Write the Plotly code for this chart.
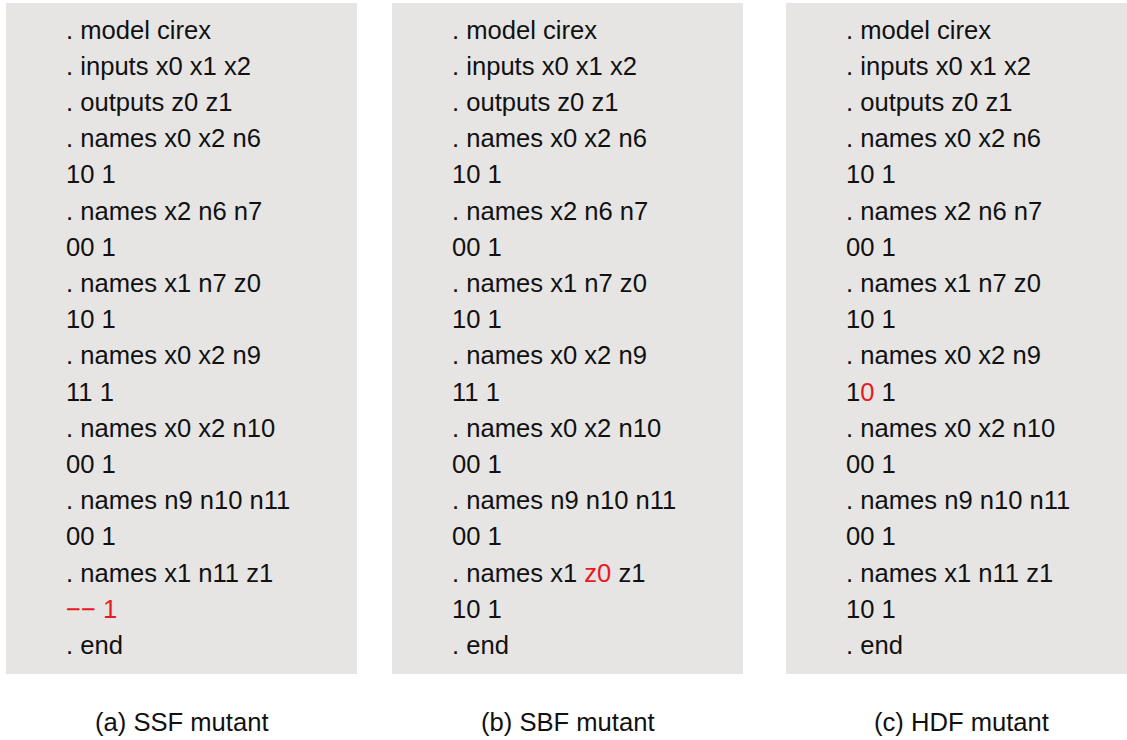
import plotly.graph_objects as go

# ---- data ----
captions = ["(a) SSF mutant", "(b) SBF mutant", "(c) HDF mutant"]

lines_ssf = [". model cirex", ". inputs x0 x1 x2", ". outputs z0 z1",
             ". names x0 x2 n6", "10 1", ". names x2 n6 n7", "00 1",
             ". names x1 n7 z0", "10 1", ". names x0 x2 n9", "11 1",
             ". names x0 x2 n10", "00 1", ". names n9 n10 n11", "00 1",
             ". names x1 n11 z1", "\u2212\u2212 1", ". end"]
lines_sbf = [". model cirex", ". inputs x0 x1 x2", ". outputs z0 z1",
             ". names x0 x2 n6", "10 1", ". names x2 n6 n7", "00 1",
             ". names x1 n7 z0", "10 1", ". names x0 x2 n9", "11 1",
             ". names x0 x2 n10", "00 1", ". names n9 n10 n11", "00 1",
             ". names x1 z0 z1", "10 1", ". end"]
lines_hdf = [". model cirex", ". inputs x0 x1 x2", ". outputs z0 z1",
             ". names x0 x2 n6", "10 1", ". names x2 n6 n7", "00 1",
             ". names x1 n7 z0", "10 1", ". names x0 x2 n9", "10 1",
             ". names x0 x2 n10", "00 1", ". names n9 n10 n11", "00 1",
             ". names x1 n11 z1", "10 1", ". end"]
panels = [lines_ssf, lines_sbf, lines_hdf]

# highlighted (mutated) spans: (panel, line, start char, end char)
highlights = [(0, 16, 0, 4), (1, 15, 11, 13), (2, 10, 1, 2)]

# ---- layout constants ----
W, H = 1127, 740
panel_left = [6, 392, 786]
panel_w = 351
panel_top, panel_bottom = 3, 674
text_dx = 58
line_y0 = 29.5
line_step = 36.2
caption_y = 722
fsize = 25.6
gray = "#e6e5e4"
red = "#e8191f"
font_family = "Liberation Sans, Arial, Helvetica, sans-serif"

fig = go.Figure()
fig.add_trace(go.Scatter(x=[0, W], y=[0, H], mode="markers",
                         marker=dict(opacity=0), hoverinfo="skip", showlegend=False))

shapes = []
annotations = []
for p, lines in enumerate(panels):
    x0 = panel_left[p]
    shapes.append(dict(type="rect", xref="x", yref="y", x0=x0, x1=x0 + panel_w,
                       y0=panel_top, y1=panel_bottom, fillcolor=gray,
                       line=dict(width=0), layer="below"))
    for i, s in enumerate(lines):
        txt = s
        for (hp, hl, a, b) in highlights:
            if hp == p and hl == i:
                txt = s[:a] + f'<span style="color:{red}">' + s[a:b] + "</span>" + s[b:]
        annotations.append(dict(x=x0 + text_dx, y=line_y0 + i * line_step,
                                xref="x", yref="y", text=txt, showarrow=False,
                                xanchor="left", yanchor="middle",
                                font=dict(family=font_family, size=fsize, color="#111111")))
    annotations.append(dict(x=x0 + panel_w / 2, y=caption_y, xref="x", yref="y",
                            text=captions[p], showarrow=False,
                            xanchor="center", yanchor="middle",
                            font=dict(family=font_family, size=fsize, color="#111111")))

fig.update_layout(
    width=W, height=H, autosize=False,
    margin=dict(l=0, r=0, t=0, b=0),
    paper_bgcolor="white", plot_bgcolor="white",
    xaxis=dict(range=[0, W], visible=False, fixedrange=True),
    yaxis=dict(range=[H, 0], visible=False, fixedrange=True),
    shapes=shapes, annotations=annotations, showlegend=False,
)

fig.write_html("out.html", config={"displayModeBar": False})

# remove the browser's default page margin so the figure fills the window exactly
with open("out.html", "r", encoding="utf-8") as f:
    html = f.read()
html = html.replace("<head>", "<head><style>html,body{margin:0;padding:0;overflow:hidden;}</style>", 1)
with open("out.html", "w", encoding="utf-8") as f:
    f.write(html)
